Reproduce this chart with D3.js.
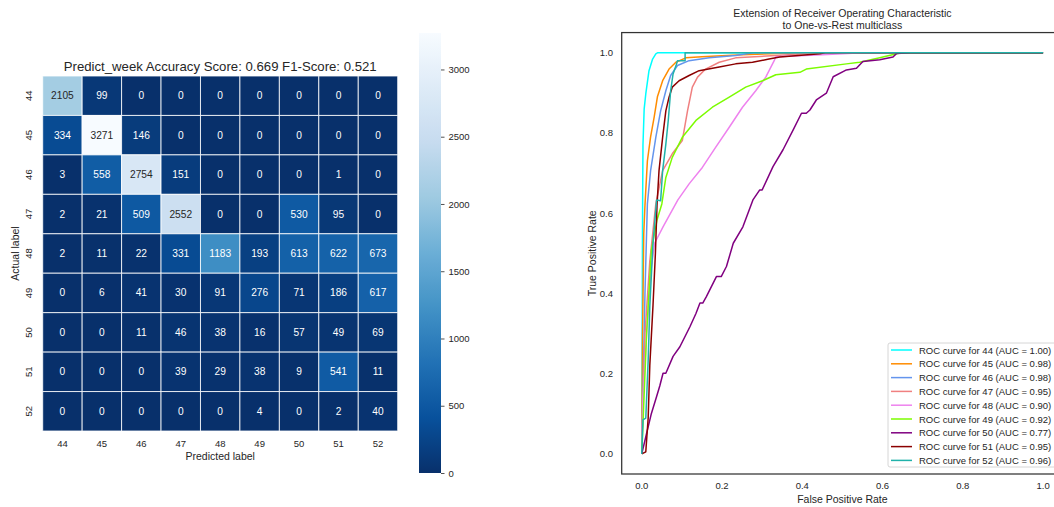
<!DOCTYPE html>
<html>
<head>
<meta charset="utf-8">
<script src="https://cdn.jsdelivr.net/npm/d3@7"></script>
<style>
    body { margin: 0; background: #fff; }
    svg { display: block; font-family: "Liberation Sans", Arial, sans-serif; }
</style>
</head>
<body>
<svg id="chart" width="1054" height="507"></svg>
<script>
// confusion matrix labels and values
const weekLabels = ['44', '45', '46', '47', '48', '49', '50', '51', '52'];
const matrixRows = [
    [2105, 99, 0, 0, 0, 0, 0, 0, 0],
    [334, 3271, 146, 0, 0, 0, 0, 0, 0],
    [3, 558, 2754, 151, 0, 0, 0, 1, 0],
    [2, 21, 509, 2552, 0, 0, 530, 95, 0],
    [2, 11, 22, 331, 1183, 193, 613, 622, 673],
    [0, 6, 41, 30, 91, 276, 71, 186, 617],
    [0, 0, 11, 46, 38, 16, 57, 49, 69],
    [0, 0, 0, 39, 29, 38, 9, 541, 11],
    [0, 0, 0, 0, 0, 4, 0, 2, 40]
];
const colorbarTicks = [0, 500, 1000, 1500, 2000, 2500, 3000];

// ROC curves, one array of [fpr, tpr] per class
const rocColors = ['#00ffff', '#ff8c00', '#6495ed', '#f08080', '#ee82ee', '#7cfc00', '#800080', '#8b0000', '#20b2aa'];
const rocAuc = ['1.00', '0.98', '0.98', '0.95', '0.90', '0.92', '0.77', '0.95', '0.96'];
const roc44 = [[0, 0], [0.001, 0.3], [0.002, 0.6], [0.003, 0.77], [0.006, 0.86], [0.01, 0.897], [0.018, 0.955], [0.027, 0.984], [0.035, 0.997], [0.04, 1], [1, 1]];
const roc45 = [[0, 0], [0.002, 0.3], [0.005, 0.55], [0.008, 0.62], [0.014, 0.73], [0.022, 0.79], [0.031, 0.84], [0.039, 0.89], [0.052, 0.93], [0.068, 0.959], [0.085, 0.976], [0.11, 0.987], [0.15, 0.99], [0.25, 0.995], [0.4, 1], [1, 1]];
const roc46 = [[0, 0], [0.004, 0.2], [0.008, 0.4], [0.012, 0.55], [0.014, 0.623], [0.022, 0.706], [0.035, 0.789], [0.047, 0.855], [0.06, 0.905], [0.072, 0.943], [0.089, 0.968], [0.118, 0.98], [0.168, 0.987], [0.234, 0.993], [0.277, 1], [1, 1]];
const roc47 = [[0, 0], [0.002, 0.1], [0.008, 0.3], [0.02, 0.48], [0.035, 0.623], [0.052, 0.706], [0.076, 0.748], [0.101, 0.781], [0.114, 0.855], [0.126, 0.914], [0.139, 0.939], [0.159, 0.959], [0.193, 0.976], [0.234, 0.987], [0.334, 0.993], [0.45, 1], [1, 1]];
const roc48 = [[0, 0], [0.003, 0.135], [0.012, 0.3], [0.024, 0.467], [0.032, 0.525], [0.053, 0.566], [0.09, 0.633], [0.118, 0.673], [0.151, 0.714], [0.184, 0.764], [0.218, 0.814], [0.251, 0.864], [0.284, 0.905], [0.309, 0.939], [0.33, 0.98], [0.334, 0.99], [0.45, 0.995], [0.55, 1], [1, 1]];
const roc49 = [[0, 0], [0.004, 0.1], [0.012, 0.3], [0.024, 0.508], [0.038, 0.583], [0.05, 0.623], [0.06, 0.689], [0.076, 0.739], [0.101, 0.789], [0.135, 0.831], [0.176, 0.864], [0.218, 0.889], [0.259, 0.914], [0.301, 0.93], [0.334, 0.945], [0.394, 0.951], [0.41, 0.959], [0.51, 0.972], [0.543, 0.976], [0.593, 0.987], [0.635, 0.997], [0.65, 1], [1, 1]];
const roc50 = [[0, 0], [0.012, 0.051], [0.024, 0.101], [0.037, 0.143], [0.045, 0.17], [0.053, 0.201], [0.06, 0.201], [0.078, 0.243], [0.095, 0.267], [0.12, 0.317], [0.135, 0.35], [0.145, 0.376], [0.152, 0.376], [0.161, 0.392], [0.186, 0.442], [0.198, 0.442], [0.211, 0.467], [0.228, 0.525], [0.252, 0.566], [0.277, 0.633], [0.294, 0.658], [0.3, 0.658], [0.327, 0.716], [0.352, 0.758], [0.377, 0.807], [0.398, 0.849], [0.41, 0.849], [0.419, 0.857], [0.435, 0.882], [0.46, 0.899], [0.477, 0.94], [0.51, 0.957], [0.535, 0.961], [0.551, 0.978], [0.593, 0.982], [0.626, 0.989], [0.635, 0.998], [0.67, 1], [1, 1]];
const roc51 = [[0, 0], [0.01, 0.005], [0.016, 0.09], [0.02, 0.22], [0.028, 0.37], [0.034, 0.5], [0.038, 0.62], [0.043, 0.706], [0.052, 0.789], [0.06, 0.855], [0.068, 0.889], [0.076, 0.914], [0.093, 0.93], [0.118, 0.943], [0.143, 0.955], [0.193, 0.964], [0.234, 0.972], [0.276, 0.976], [0.317, 0.984], [0.344, 0.989], [0.444, 0.997], [0.46, 1], [1, 1]];
const roc52 = [[0, 0], [0.003, 0.085], [0.01, 0.089], [0.016, 0.234], [0.02, 0.367], [0.028, 0.525], [0.037, 0.633], [0.047, 0.631], [0.052, 0.706], [0.06, 0.772], [0.066, 0.831], [0.072, 0.905], [0.078, 0.947], [0.086, 0.97], [0.089, 0.98], [0.108, 0.98], [0.108, 1], [1, 1]];
const rocCurves = [roc44, roc45, roc46, roc47, roc48, roc49, roc50, roc51, roc52];
const rocTicks = [0, 0.2, 0.4, 0.6, 0.8, 1.0];

const svg = d3.select('#chart');
const textColor = '#262626';

// ---------- heatmap ----------
const hm = { left: 42.7, top: 76, size: 355 };
const vmax = d3.max(matrixRows.flat());

const hx = d3.scaleBand().domain(weekLabels).range([hm.left, hm.left + hm.size]);
const hy = d3.scaleBand().domain(weekLabels).range([hm.top, hm.top + hm.size]);

// reversed Blues, linear between the brewer stops (matplotlib style)
const bluesStops = ['#08306b', '#08519c', '#2171b5', '#4292c6', '#6baed6', '#9ecae1', '#c6dbef', '#deebf7', '#f7fbff'];
const color = d3.scaleLinear()
    .domain(d3.range(bluesStops.length).map(i => i * vmax / (bluesStops.length - 1)))
    .range(bluesStops)
    .interpolate(d3.interpolateRgb);

// pick annotation colour by luminance, like seaborn does
function textFor(v) {
    const c = d3.rgb(color(v));
    const lin = x => { x /= 255; return x <= 0.03928 ? x / 12.92 : Math.pow((x + 0.055) / 1.055, 2.4); };
    const lum = 0.2126 * lin(c.r) + 0.7152 * lin(c.g) + 0.0722 * lin(c.b);
    return lum > 0.408 ? textColor : '#ffffff';
}

const cells = [];
matrixRows.forEach((row, i) => row.forEach((v, j) => cells.push({ r: weekLabels[i], c: weekLabels[j], v: v })));

svg.append('g')
    .selectAll('rect')
    .data(cells)
    .join('rect')
    .attr('x', d => hx(d.c))
    .attr('y', d => hy(d.r))
    .attr('width', hx.bandwidth())
    .attr('height', hy.bandwidth())
    .attr('fill', d => color(d.v))
    .attr('stroke', '#ffffff')
    .attr('stroke-opacity', 0.8)
    .attr('stroke-width', 1);

svg.append('g')
    .selectAll('text')
    .data(cells)
    .join('text')
    .attr('x', d => hx(d.c) + hx.bandwidth() / 2)
    .attr('y', d => hy(d.r) + hy.bandwidth() / 2)
    .attr('text-anchor', 'middle')
    .attr('dominant-baseline', 'central')
    .attr('font-size', '10.2px')
    .attr('fill', d => textFor(d.v))
    .text(d => d.v);

// x tick labels
svg.append('g')
    .selectAll('text')
    .data(weekLabels)
    .join('text')
    .attr('x', d => hx(d) + hx.bandwidth() / 2)
    .attr('y', 446.5)
    .attr('text-anchor', 'middle')
    .attr('font-size', '9.5px')
    .attr('fill', textColor)
    .text(d => d);

// y tick labels (rotated)
svg.append('g')
    .selectAll('text')
    .data(weekLabels)
    .join('text')
    .attr('transform', d => `translate(28,${hy(d) + hy.bandwidth() / 2}) rotate(-90)`)
    .attr('text-anchor', 'middle')
    .attr('dominant-baseline', 'central')
    .attr('font-size', '9.5px')
    .attr('fill', textColor)
    .text(d => d);

svg.append('text')
    .attr('x', hm.left + hm.size / 2)
    .attr('y', 70.5)
    .attr('text-anchor', 'middle')
    .attr('font-size', '13.2px')
    .attr('fill', textColor)
    .text('Predict_week Accuracy Score: 0.669 F1-Score: 0.521');

svg.append('text')
    .attr('x', hm.left + hm.size / 2)
    .attr('y', 460)
    .attr('text-anchor', 'middle')
    .attr('font-size', '10.5px')
    .attr('fill', textColor)
    .text('Predicted label');

svg.append('text')
    .attr('transform', `translate(15,${hm.top + hm.size / 2}) rotate(-90)`)
    .attr('text-anchor', 'middle')
    .attr('dominant-baseline', 'central')
    .attr('font-size', '10.5px')
    .attr('fill', textColor)
    .text('Actual label');

// ---------- colorbar ----------
const cb = { x: 419, w: 22, top: 33, bottom: 473 };
const cbScale = d3.scaleLinear().domain([0, vmax]).range([cb.bottom, cb.top]);

const defs = svg.append('defs');
const grad = defs.append('linearGradient')
    .attr('id', 'cbgrad')
    .attr('x1', 0).attr('y1', 1).attr('x2', 0).attr('y2', 0);
d3.range(0, 1.0001, 0.025).forEach(t => {
    grad.append('stop').attr('offset', t).attr('stop-color', color(t * vmax));
});

svg.append('rect')
    .attr('x', cb.x)
    .attr('y', cb.top)
    .attr('width', cb.w)
    .attr('height', cb.bottom - cb.top)
    .attr('fill', 'url(#cbgrad)');

const cbAxis = svg.append('g')
    .attr('transform', `translate(${cb.x + cb.w},0)`)
    .call(d3.axisRight(cbScale).tickValues(colorbarTicks).tickFormat(d3.format('d')).tickSize(3.5).tickPadding(4));
cbAxis.select('.domain').remove();
cbAxis.selectAll('line').attr('stroke', textColor).attr('stroke-width', 0.8);
cbAxis.selectAll('text')
    .attr('font-family', '"Liberation Sans", Arial, sans-serif')
    .attr('font-size', '9.5px')
    .attr('fill', textColor);

// ---------- ROC plot ----------
const rx = d3.scaleLinear().domain([-0.05, 1.05]).range([621.7, 621.7 + 1.1 * 401.3]);
const ry = d3.scaleLinear().domain([-0.05, 1.05]).range([474, 474 - 1.1 * 401.3]);

// frame
svg.append('rect')
    .attr('x', rx(-0.05))
    .attr('y', ry(1.05))
    .attr('width', rx(1.05) - rx(-0.05))
    .attr('height', ry(-0.05) - ry(1.05))
    .attr('fill', 'none')
    .attr('stroke', '#333333')
    .attr('stroke-width', 1.25);

const line = d3.line()
    .x(d => rx(d[0]))
    .y(d => ry(d[1]));

svg.append('g')
    .selectAll('path')
    .data(rocCurves)
    .join('path')
    .attr('d', line)
    .attr('fill', 'none')
    .attr('stroke', (d, i) => rocColors[i])
    .attr('stroke-width', 1.5)
    .attr('stroke-linejoin', 'round');

// tick labels, no tick marks
svg.append('g')
    .selectAll('text')
    .data(rocTicks)
    .join('text')
    .attr('x', d => rx(d))
    .attr('y', 489)
    .attr('text-anchor', 'middle')
    .attr('font-size', '9.5px')
    .attr('fill', textColor)
    .text(d => d.toFixed(1));

svg.append('g')
    .selectAll('text')
    .data(rocTicks)
    .join('text')
    .attr('x', 613)
    .attr('y', d => ry(d))
    .attr('text-anchor', 'end')
    .attr('dominant-baseline', 'central')
    .attr('font-size', '9.5px')
    .attr('fill', textColor)
    .text(d => d.toFixed(1));

svg.append('text')
    .attr('x', rx(0.5))
    .attr('y', 502.5)
    .attr('text-anchor', 'middle')
    .attr('font-size', '10.5px')
    .attr('fill', textColor)
    .text('False Positive Rate');

svg.append('text')
    .attr('transform', `translate(592,${ry(0.5)}) rotate(-90)`)
    .attr('text-anchor', 'middle')
    .attr('dominant-baseline', 'central')
    .attr('font-size', '10.5px')
    .attr('fill', textColor)
    .text('True Positive Rate');

svg.append('text')
    .attr('x', rx(0.5))
    .attr('y', 16.5)
    .attr('text-anchor', 'middle')
    .attr('font-size', '10.5px')
    .attr('fill', textColor)
    .text('Extension of Receiver Operating Characteristic');

svg.append('text')
    .attr('x', rx(0.5))
    .attr('y', 28.5)
    .attr('text-anchor', 'middle')
    .attr('font-size', '10.5px')
    .attr('fill', textColor)
    .text('to One-vs-Rest multiclass');

// legend
const legend = svg.append('g');
legend.append('rect')
    .attr('x', 888)
    .attr('y', 343)
    .attr('width', 175)
    .attr('height', 124)
    .attr('rx', 2)
    .attr('fill', '#ffffff')
    .attr('fill-opacity', 0.8)
    .attr('stroke', '#cccccc')
    .attr('stroke-width', 0.8);

const entries = legend.selectAll('g')
    .data(weekLabels)
    .join('g')
    .attr('transform', (d, i) => `translate(0,${350 + i * 13.8})`);

entries.append('line')
    .attr('x1', 891)
    .attr('x2', 912)
    .attr('stroke', (d, i) => rocColors[i])
    .attr('stroke-width', 1.5);

entries.append('text')
    .attr('x', 919)
    .attr('dominant-baseline', 'central')
    .attr('font-size', '9.5px')
    .attr('fill', textColor)
    .text((d, i) => `ROC curve for ${d} (AUC = ${rocAuc[i]})`);
</script>
</body>
</html>
